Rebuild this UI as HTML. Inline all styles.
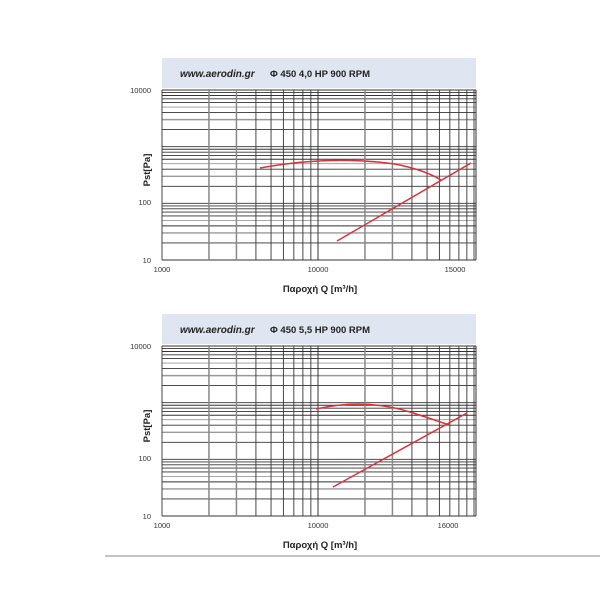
<!DOCTYPE html>
<html><head><meta charset="utf-8"><style>
body{margin:0;background:#fff;width:600px;height:600px;overflow:hidden}
svg{display:block}
text{font-family:"Liberation Sans",sans-serif}
</style></head><body>
<svg width="600" height="600" viewBox="0 0 600 600" xmlns="http://www.w3.org/2000/svg">
<g id="c"></g>
</svg>
<script>
const svg=document.querySelector('svg');
const NS='http://www.w3.org/2000/svg';
function el(t,a,txt){const e=document.createElementNS(NS,t);for(const k in a)e.setAttribute(k,a[k]);if(txt!==undefined)e.textContent=txt;svg.appendChild(e);return e;}
function chart(top,title,xt3,curve,line){
  const L=162,R=476,T=top,B=top+170;
  el('rect',{x:L,y:T-32,width:R-L,height:30,fill:'#dfe5f1'});
  el('text',{x:180,y:T-13,'font-size':'10','font-style':'italic','font-family':'"DejaVu Sans",sans-serif','font-weight':'bold',fill:'#222'},'www.aerodin.gr');
  el('text',{x:270,y:T-13,'font-size':'9.5','font-weight':'bold',fill:'#222'},title);
  // horizontal lines
  for(let d=0;d<3;d++)for(let m=1;m<=10;m++){
    const v=Math.pow(10,1+d)*m; if(m==10&&d<2)continue;
    const y=T+(4-Math.log10(v))*170/3;
    el('line',{x1:L,x2:R,y1:y,y2:y,stroke:(m==3||m==5)?'#999':'#333','stroke-width':(m==3)?1.4:0.9});
  }
  el('line',{x1:L,x2:R,y1:B,y2:B,stroke:'#333','stroke-width':1});
  // vertical lines
  const dec=156;
  for(let d=0;d<2;d++)for(let m=1;m<=10;m++){
    const x=L+d*dec+Math.log10(m)*dec; if(x>R+0.5)continue;
    el('line',{x1:x,x2:x,y1:T,y2:B,stroke:(m==2||m==3)?'#888':'#333','stroke-width':(m==2||m==3)?1.5:0.9});
  }
  el('line',{x1:R,x2:R,y1:T,y2:B,stroke:'#333','stroke-width':1});
  // labels
  el('text',{x:151,y:T+3,'font-size':'7.5','text-anchor':'end',fill:'#333'},'10000');
  el('text',{x:151,y:T+115,'font-size':'7.5','text-anchor':'end',fill:'#333'},'100');
  el('text',{x:151,y:B+3,'font-size':'7.5','text-anchor':'end',fill:'#333'},'10');
  el('text',{x:L,y:B+12,'font-size':'7.5','text-anchor':'middle',fill:'#333'},'1000');
  el('text',{x:318,y:B+12,'font-size':'7.5','text-anchor':'middle',fill:'#333'},'10000');
  el('text',{x:xt3[0],y:B+12,'font-size':'7.5','text-anchor':'middle',fill:'#333'},xt3[1]);
  el('text',{x:0,y:0,'font-size':'9.5','font-weight':'bold',fill:'#222',transform:`translate(150,${T+80}) rotate(-90)`,'text-anchor':'middle'},'Pst[Pa]');
  el('text',{x:320,y:B+32,'font-size':'9.5','font-weight':'bold',fill:'#222','text-anchor':'middle'},'Παροχή Q  [m³/h]');
  el('path',{d:curve,fill:'none',stroke:'#d9323a','stroke-width':1.5});
  el('path',{d:line,fill:'none',stroke:'#d9323a','stroke-width':1.5});
}
chart(90,'Φ 450 4,0 HP 900 RPM',[455,'15000'],'M260,168 Q330,155 395,164 Q425,170 441,180','M337,241 L471,163');
chart(346,'Φ 450 5,5 HP 900 RPM',[448,'16000'],'M316,409 Q365,398 410,412 Q435,420 449,425','M333,487 L467,413');
el('line',{x1:105,x2:600,y1:556,y2:556,stroke:'#888','stroke-width':1});
</script>
</body></html>
